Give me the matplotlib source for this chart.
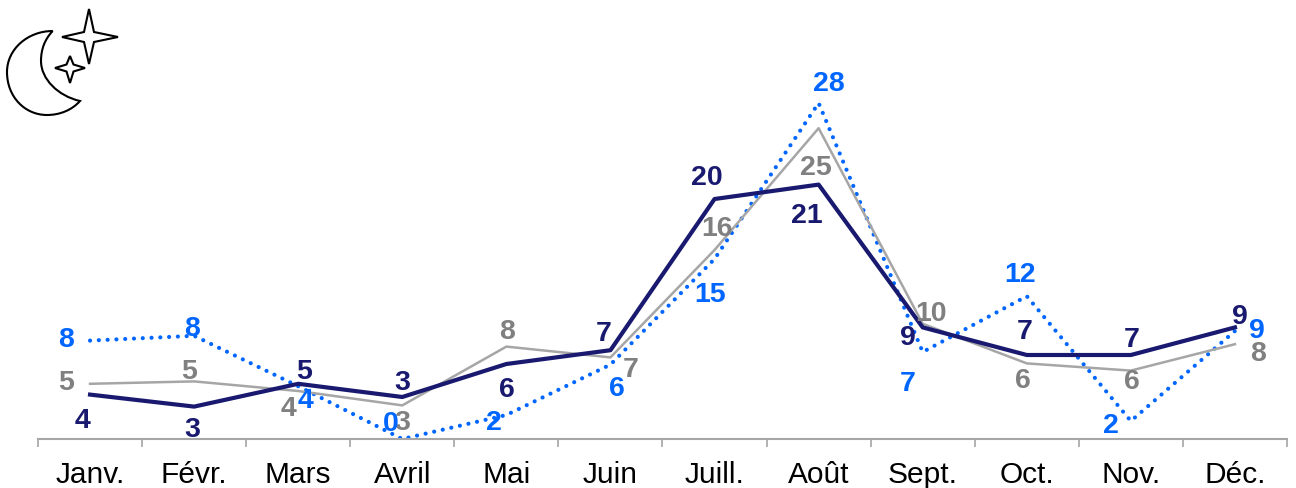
import matplotlib.pyplot as plt
from matplotlib.patches import PathPatch
from matplotlib.path import Path

plt.rcParams['font.family'] = ['Liberation Sans', 'DejaVu Sans']

months = ["Janv.", "Févr.", "Mars", "Avril", "Mai", "Juin", "Juill.", "Août", "Sept.", "Oct.", "Nov.", "Déc."]

navy_values = [3.7, 2.7, 4.6, 3.5, 6.25, 7.4, 20, 21.2, 9.3, 7, 7, 9.3]
grey_values = [4.6, 4.8, 4, 2.8, 7.7, 6.8, 15.75, 25.9, 9.6, 6.3, 5.7, 7.9]
blue_values = [8.2, 8.6, 4.4, 0, 2, 6.2, 15, 28, 7.25, 11.9, 1.5, 9]

navy_labels = [4, 3, 5, 3, 6, 7, 20, 21, 9, 7, 7, 9]
grey_labels = [5, 5, 4, 3, 8, 7, 16, 25, 10, 6, 6, 8]
blue_labels = [8, 8, 4, 0, 2, 6, 15, 28, 7, 12, 2, 9]

# label offsets from the points, in pixels
navy_off = [(-8, -25), (-2, -22), (6, 13), (0, 15), (1, -25), (-7, 17), (-8, 22), (-12, -30), (-15, -10), (-2, 24), (1, 16), (5, 11)]
grey_off = [(-24, 2), (-5, 10), (-10, -17), (0, -17), (1, 16), (20, -12), (2, 22), (-3, -39), (8, 11), (-4, -17), (1, -10), (23, -9)]
blue_off = [(-24, 2), (-2, 8), (7, -14), (-12, 16), (-12, -7), (6, -23), (-4, -35), (10, 20), (-15, -31), (-7, 22), (-20, -4), (22, 1)]

NAVY = "#191970"
BLUE = "#0066ff"
GREY_LINE = "#a6a6a6"
GREY_TEXT = "#808080"

fig = plt.figure(figsize=(12.96, 4.89), dpi=100)
ax = fig.add_axes([38 / 1296, 49 / 489, 1249 / 1296, 440 / 489])

x = list(range(len(months)))
ax.plot(x, blue_values, color=BLUE, lw=3, ls=(0, (0.01, 2.1)), dash_capstyle='round', clip_on=False)
ax.plot(x, grey_values, color=GREY_LINE, lw=1.8, clip_on=False)
ax.plot(x, navy_values, color=NAVY, lw=3, clip_on=False)

ax.set_xlim(-0.5, 11.5)
ax.set_ylim(0, 440 / 12)

for vals, labs, offs, col in [(navy_values, navy_labels, navy_off, NAVY),
                              (grey_values, grey_labels, grey_off, GREY_TEXT),
                              (blue_values, blue_labels, blue_off, BLUE)]:
    for i in x:
        ax.annotate(str(labs[i]), (i, vals[i]), xytext=offs[i], textcoords='offset pixels',
                    ha='center', va='center', color=col, fontsize=20.5, fontweight='bold',
                    annotation_clip=False)

ax.set_xticks([i - 0.5 for i in range(13)])
ax.set_xticklabels([])
ax.set_xticks(x, minor=True)
ax.set_xticklabels(months, minor=True, fontsize=21.5, color='black')
ax.tick_params(axis='x', which='major', length=6, width=1.2, color=GREY_LINE)
ax.tick_params(axis='x', which='minor', length=0, pad=15)
ax.set_yticks([])
for side in ['top', 'left', 'right']:
    ax.spines[side].set_visible(False)
ax.spines['bottom'].set_color(GREY_LINE)
ax.spines['bottom'].set_linewidth(1.5)
ax.patch.set_alpha(0)

# moon and stars icon, drawn in pixel coordinates
icon = fig.add_axes([0, 0, 1, 1])
icon.set_xlim(0, 1296)
icon.set_ylim(489, 0)
icon.axis('off')

moon = Path([(52.7, 32), (28, 32), (7, 50), (7, 73), (7, 98), (25, 116), (47, 116),
             (60, 116), (72, 111), (80, 102), (58, 97), (41, 80), (41, 62),
             (41, 50), (45, 40), (52.7, 32)],
            [Path.MOVETO] + [Path.CURVE4] * 15)
icon.add_patch(PathPatch(moon, fc='white', ec='black', lw=1.5))


def star(cx, cy, left, right, up, down, w):
    pts = [(cx, cy - up), (cx + w, cy - w), (cx + right, cy), (cx + w, cy + w),
           (cx, cy + down), (cx - w, cy + w), (cx - left, cy), (cx - w, cy - w), (cx, cy - up)]
    return Path(pts, closed=True)


icon.add_patch(PathPatch(star(89, 38, 27, 29, 28, 27, 5), fc='white', ec='black', lw=1.5, joinstyle='miter'))
icon.add_patch(PathPatch(star(70, 69, 15, 15, 12, 15, 3.5), fc='white', ec='black', lw=1.5, joinstyle='miter'))

plt.savefig("out.png", dpi=100)
